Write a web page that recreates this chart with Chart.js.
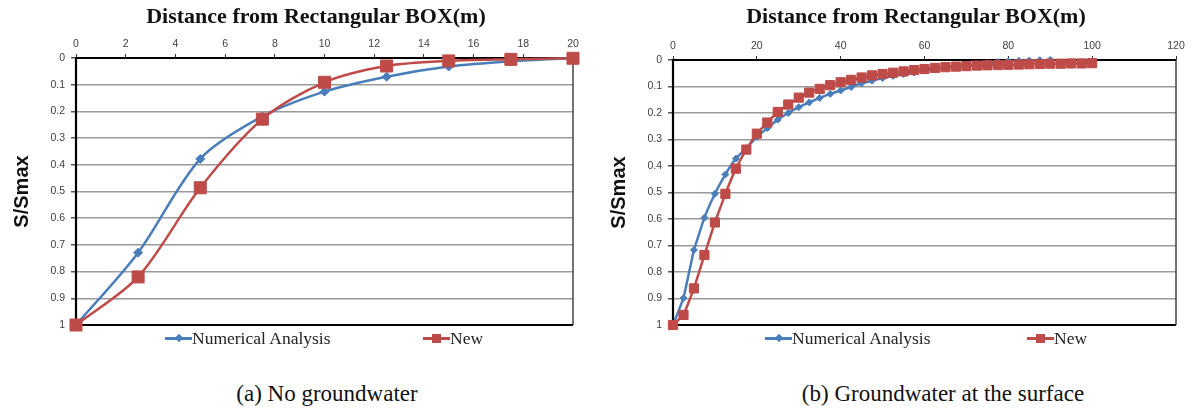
<!DOCTYPE html>
<html>
<head>
<meta charset="utf-8">
<script src="https://cdn.jsdelivr.net/npm/chart.js@4.4.1/dist/chart.umd.min.js"></script>
<style>
  body { margin:0; background:#fff; width:1194px; height:412px; position:relative; overflow:hidden; }
  .box { position:absolute; top:0; width:597px; height:345px; }
  #boxA { left:0; }
  #boxB { left:597px; }
  .heading { position:absolute; top:3px; transform:translateX(-50%); white-space:nowrap;
             font-family:"Liberation Serif","Times New Roman",serif; font-size:22px; font-weight:bold; color:#111; }
  .key { position:absolute; top:328px; height:20px; line-height:20px; white-space:nowrap;
         font-family:"Liberation Serif","Times New Roman",serif; font-size:17.5px; color:#222; }
  .swatch { display:inline-block; position:relative; width:27px; height:20px; vertical-align:top; }
  .swatch::before { content:""; position:absolute; left:0; right:0; top:9px; height:2.5px; background:var(--c); }
  .swatch i { position:absolute; left:50%; top:50%; background:var(--c); }
  .swatch.diamond i { width:6px; height:6px; margin:-3px 0 0 -3px; transform:rotate(45deg); }
  .swatch.square i { width:9px; height:9px; margin:-4px 0 0 -4.5px; }
  .caption { position:absolute; top:381px; transform:translateX(-50%); white-space:nowrap;
             font-family:"Liberation Serif","Times New Roman",serif; font-size:23px; color:#111; }
</style>
</head>
<body>
<div class="box" id="boxA"><canvas id="chartA" width="597" height="345"></canvas></div>
<div class="box" id="boxB"><canvas id="chartB" width="597" height="345"></canvas></div>

<div class="heading" id="headA" style="left:316px"></div>
<div class="heading" id="headB" style="left:916px"></div>

<div class="key" style="left:165px"><span class="swatch diamond" style="--c:#4a7ebb"><i></i></span>Numerical Analysis</div>
<div class="key" style="left:423px"><span class="swatch square" style="--c:#be4b48"><i></i></span>New</div>
<div class="key" style="left:765px"><span class="swatch diamond" style="--c:#4a7ebb"><i></i></span>Numerical Analysis</div>
<div class="key" style="left:1027px"><span class="swatch square" style="--c:#be4b48"><i></i></span>New</div>

<div class="caption" style="left:327px">(a) No groundwater</div>
<div class="caption" style="left:943px">(b) Groundwater at the surface</div>

<script>
// (a) no groundwater
const distA = [0, 2.5, 5, 7.5, 10, 12.5, 15, 17.5, 20];
const numericalA = [1, 0.729, 0.378, 0.219, 0.126, 0.07, 0.032, 0.012, 0];
const newA = [1, 0.82, 0.486, 0.229, 0.091, 0.03, 0.011, 0.005, 0.001];

// (b) groundwater at the surface
const distNumB = [0, 2.5, 5, 7.5, 10, 12.5, 15, 17.5, 20, 22.5, 25, 27.5, 30, 32.5, 35, 37.5, 40,
  42.5, 45, 47.5, 50, 52.5, 55, 57.5, 60, 62.5, 65, 67.5, 70, 72.5, 75, 77.5, 80, 82.5, 85, 87.5, 90];
const numericalB = [1, 0.898, 0.717, 0.595, 0.505, 0.432, 0.372, 0.333, 0.29, 0.257, 0.225, 0.2,
  0.178, 0.16, 0.143, 0.128, 0.115, 0.102, 0.088, 0.078, 0.068, 0.06, 0.053, 0.047, 0.04, 0.034,
  0.029, 0.024, 0.02, 0.016, 0.012, 0.008, 0.005, 0.003, 0.002, 0.001, 0];
const distNewB = [0, 2.5, 5, 7.5, 10, 12.5, 15, 17.5, 20, 22.5, 25, 27.5, 30, 32.5, 35, 37.5, 40,
  42.5, 45, 47.5, 50, 52.5, 55, 57.5, 60, 62.5, 65, 67.5, 70, 72.5, 75, 77.5, 80, 82.5, 85, 87.5,
  90, 92.5, 95, 97.5, 100];
const newB = [1, 0.962, 0.862, 0.736, 0.613, 0.505, 0.41, 0.338, 0.278, 0.236, 0.196, 0.168,
  0.142, 0.123, 0.109, 0.095, 0.084, 0.075, 0.066, 0.058, 0.053, 0.048, 0.043, 0.038, 0.034,
  0.03, 0.027, 0.025, 0.023, 0.021, 0.02, 0.019, 0.018, 0.017, 0.016, 0.015, 0.014, 0.014,
  0.013, 0.013, 0.012];

// axis ranges
const xRangeA = { min: 0, max: 20, step: 2 };
const xRangeB = { min: 0, max: 120, step: 20 };
const yRange = { min: 0, max: 1, step: 0.1 };

const xTitle = 'Distance from Rectangular BOX(m)';
const yTitle = 'S/Smax';
const BLUE = '#4a7ebb', RED = '#be4b48';

document.getElementById('headA').textContent = xTitle;
document.getElementById('headB').textContent = xTitle;

const toPoints = (xs, ys) => xs.map((x, i) => ({ x: x, y: ys[i] }));

// plot frame: heavy black on left/top/bottom, thinner on the right
const framePlugin = {
  id: 'frame',
  beforeDatasetsDraw(chart) {
    const a = chart.chartArea, ctx = chart.ctx;
    ctx.save();
    ctx.strokeStyle = '#444';
    ctx.lineWidth = 1.5;
    ctx.beginPath(); ctx.moveTo(a.right, a.top); ctx.lineTo(a.right, a.bottom); ctx.stroke();
    ctx.strokeStyle = '#000';
    ctx.lineWidth = 2.2;
    ctx.beginPath();
    ctx.moveTo(a.right, a.top); ctx.lineTo(a.left, a.top); ctx.lineTo(a.left, a.bottom); ctx.lineTo(a.right, a.bottom);
    ctx.stroke();
    ctx.restore();
  }
};

function makeChart(id, sets, xr, top, right, big) {
  return new Chart(document.getElementById(id), {
    type: 'line',
    data: {
      datasets: [
        { label: 'Numerical Analysis', data: sets[0], borderColor: BLUE, backgroundColor: BLUE,
          borderWidth: 2.5, pointStyle: 'rectRot', pointRadius: big ? 4.5 : 3.5, pointBorderWidth: 1,
          tension: big ? 0.3 : 0.08, clip: false, order: 1 },
        { label: 'New', data: sets[1], borderColor: RED, backgroundColor: RED,
          borderWidth: 2.5, pointStyle: 'rect', pointRadius: big ? 8.5 : 6.5, pointBorderWidth: 1,
          tension: big ? 0.3 : 0.08, clip: false, order: 0 }
      ]
    },
    options: {
      responsive: false,
      animation: false,
      layout: { padding: { left: 0, top: 0, right: right, bottom: 20 } },
      plugins: { legend: { display: false }, tooltip: { enabled: false } },
      scales: {
        x: {
          type: 'linear', position: 'top', min: xr.min, max: xr.max,
          afterFit: s => { s.height = top; },
          ticks: { stepSize: xr.step, padding: 4, color: '#404040', maxRotation: 0,
                   font: { family: 'Liberation Sans, Arial', size: 10.5 } },
          grid: { drawOnChartArea: false, drawTicks: true, tickLength: 4, tickColor: '#333' },
          border: { display: false }
        },
        y: {
          reverse: true, min: yRange.min, max: yRange.max,
          afterFit: s => { s.width = 76; },
          ticks: { stepSize: yRange.step, padding: 6, color: '#404040',
                   font: { family: 'Liberation Sans, Arial', size: 10.5 },
                   callback: v => String(Number(v.toFixed(1))) },
          grid: { color: '#9a9a9a', lineWidth: 1.5, tickLength: 5, tickColor: '#555' },
          border: { display: false },
          title: { display: true, text: yTitle, color: '#111', padding: { top: 10, bottom: 0 },
                   font: { family: 'Liberation Sans, Arial', size: 20, weight: 'bold' } }
        }
      }
    },
    plugins: [framePlugin]
  });
}

makeChart('chartA', [toPoints(distA, numericalA), toPoints(distA, newA)], xRangeA, 58, 24, true);
makeChart('chartB', [toPoints(distNumB, numericalB), toPoints(distNewB, newB)], xRangeB, 60, 18, false);
</script>
</body>
</html>
